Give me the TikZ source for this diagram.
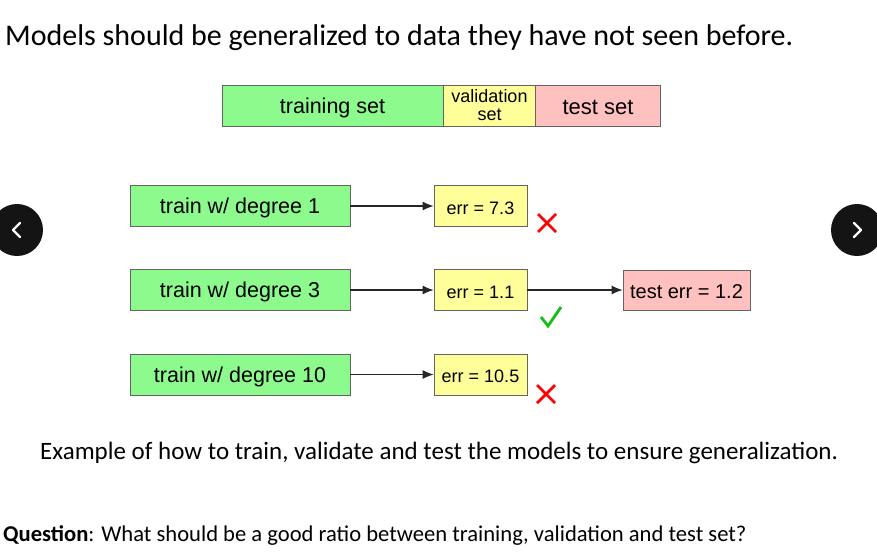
\documentclass[tikz,border=0pt]{standalone}
\usepackage{fontspec}
\setmainfont{Carlito}
\newfontfamily\helv{Liberation Sans}
\usetikzlibrary{arrows.meta,calc}
\definecolor{boxgreen}{RGB}{140,250,140}
\definecolor{boxyellow}{RGB}{255,255,153}
\definecolor{boxpink}{RGB}{255,192,192}
\definecolor{boxline}{RGB}{100,100,100}
\definecolor{okgreen}{RGB}{20,190,20}
\definecolor{navdark}{RGB}{20,20,20}
\newcommand{\lowertext}[1]{\raisebox{-2pt}[\height][\depth]{#1}}
\tikzset{
  setbox/.style={draw=boxline, line width=0.8pt, inner sep=0pt, minimum height=41pt, align=center, font=\helv\fontsize{21.5}{22}\selectfont},
  greenbox/.style={setbox, fill=boxgreen},
  yellowbox/.style={setbox, fill=boxyellow, font=\helv\fontsize{18}{20}\selectfont},
  pinkbox/.style={setbox, fill=boxpink},
  flow/.style={draw=black!85, line width=1.1pt, -{Latex[length=11pt,width=9pt]}},
  crossmark/.style={draw=red, line width=2.8pt},
  tickmark/.style={draw=okgreen, line width=2.8pt},
  navbtn/.style={circle, fill=navdark, minimum size=52pt, inner sep=0pt},
  chev/.style={draw=white, line width=2.2pt, line cap=round, line join=round}
}
\begin{document}
\begin{tikzpicture}[x=1pt,y=-1pt]
\useasboundingbox (0,0) rectangle (877,558);
\fill[white] (0,0) rectangle (877,558);

% title
\node[anchor=base west, inner sep=0pt, font=\fontsize{30}{34}\selectfont] (title) at (5,45) {Models should be generalized to data they have not seen before.};

% data split bar
\node[greenbox, minimum width=221pt] (train) at (332.5,105.5) {\lowertext{training set}};
\node[yellowbox, minimum width=92pt, font=\helv\fontsize{18}{20}\selectfont] (val) at (489.5,105.5) {\lowertext{\begin{tabular}{@{}c@{}}validation\\[-2pt]set\end{tabular}}};
\node[pinkbox, minimum width=125pt, font=\helv\fontsize{22}{24}\selectfont] (test) at (598,105.5) {\lowertext{test set}};

% row 1
\node[greenbox, minimum width=220pt] (t1) at (240,206) {\lowertext{train w/ degree 1}};
\node[yellowbox, minimum width=93pt] (e1) at (480.5,206) {\lowertext{err = 7.3}};
\draw[flow] (t1) -- (e1);

% row 2
\node[greenbox, minimum width=220pt] (t3) at (240,290) {\lowertext{train w/ degree 3}};
\node[yellowbox, minimum width=93pt] (e3) at (480.5,290) {\lowertext{err = 1.1}};
\node[pinkbox, minimum width=127pt, minimum height=40pt, font=\helv\fontsize{20}{22}\selectfont] (te) at (686.5,290) {\lowertext{test err = 1.2}};
\draw[flow] (t3) -- (e3);
\draw[flow] (e3) -- (te);

% row 3
\node[greenbox, minimum width=220pt] (t10) at (240,374.5) {\lowertext{train w/ degree 10}};
\node[yellowbox, minimum width=93pt] (e10) at (480.5,374.5) {\lowertext{err = 10.5}};
\draw[flow] (t10) -- (e10);

% marks
\coordinate (x1) at (547,223);
\draw[crossmark] ($(x1)+(-9,-9)$) -- ($(x1)+(9,9)$) ($(x1)+(9,-9)$) -- ($(x1)+(-9,9)$);
\coordinate (x3) at (546,394);
\draw[crossmark] ($(x3)+(-9,-9)$) -- ($(x3)+(9,9)$) ($(x3)+(9,-9)$) -- ($(x3)+(-9,9)$);
\coordinate (ck) at (551,318);
\draw[tickmark] ($(ck)+(-10,-1)$) -- ($(ck)+(-3,8)$) -- ($(ck)+(10,-11)$);

% nav buttons
\node[navbtn] (prev) at (17,230) {};
\draw[chev] ($(prev)+(3,-7)$) -- ($(prev)+(-4,0)$) -- ($(prev)+(3,7)$);
\node[navbtn] (next) at (857,230) {};
\draw[chev] ($(next)+(-3,-7)$) -- ($(next)+(4,0)$) -- ($(next)+(-3,7)$);

% caption
\node[anchor=base west, inner sep=0pt, font=\fontsize{25}{28}\selectfont] (cap) at (40,459) {Example of how to train, validate and test the models to ensure generalization.};

% question
\node[anchor=base west, inner sep=0pt, font=\fontsize{22.6}{26}\selectfont] (q) at (3,541) {\textbf{Question}: What should be a good ratio between training, validation and test set?};
\end{tikzpicture}
\end{document}
